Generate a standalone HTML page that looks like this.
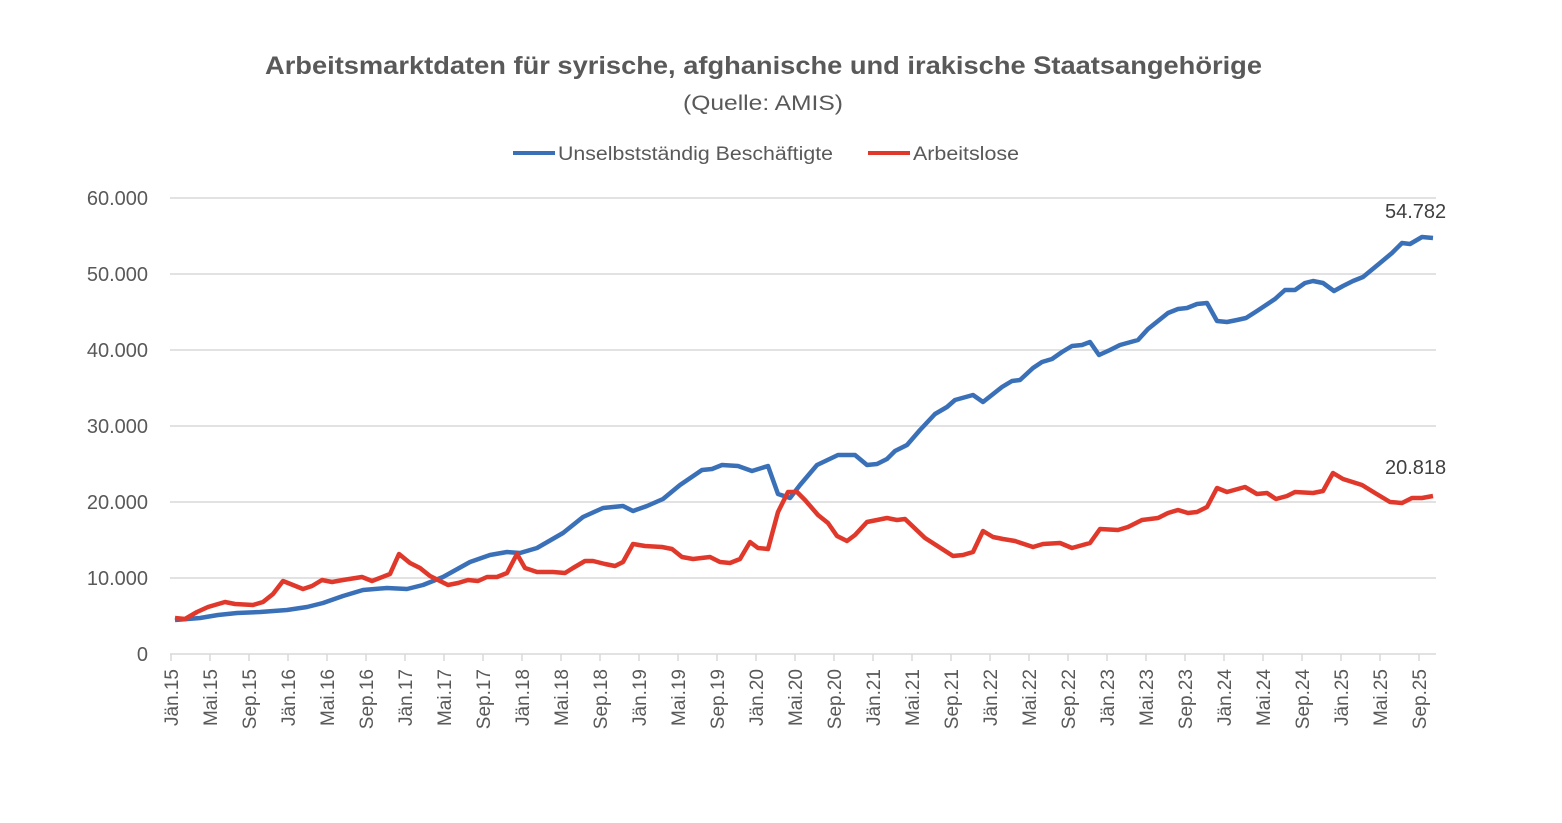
<!DOCTYPE html>
<html><head><meta charset="utf-8"><style>
body{margin:0;background:#fff;}
svg text{font-family:"Liberation Sans",sans-serif;fill:#595959;}
</style></head><body>
<svg width="1562" height="818" viewBox="0 0 1562 818" xmlns="http://www.w3.org/2000/svg">
<text x="265" y="74" font-size="25" font-weight="bold" textLength="997" lengthAdjust="spacingAndGlyphs">Arbeitsmarktdaten für syrische, afghanische und irakische Staatsangehörige</text>
<text x="683" y="110" font-size="21" textLength="160" lengthAdjust="spacingAndGlyphs">(Quelle: AMIS)</text>
<line x1="513" y1="153" x2="555" y2="153" stroke="#3a70b8" stroke-width="4"/>
<text x="558" y="160" font-size="19" textLength="275" lengthAdjust="spacingAndGlyphs">Unselbstständig Beschäftigte</text>
<line x1="868" y1="153" x2="910" y2="153" stroke="#e0392b" stroke-width="4"/>
<text x="913" y="160" font-size="19" textLength="106" lengthAdjust="spacingAndGlyphs">Arbeitslose</text>
<g stroke="#d9d9d9" stroke-width="1.5">
<line x1="170" y1="198" x2="1436" y2="198"/><line x1="170" y1="274" x2="1436" y2="274"/>
<line x1="170" y1="350" x2="1436" y2="350"/><line x1="170" y1="426" x2="1436" y2="426"/>
<line x1="170" y1="502" x2="1436" y2="502"/><line x1="170" y1="578" x2="1436" y2="578"/>
<line x1="170" y1="654" x2="1436" y2="654"/>
</g>
<g font-size="20" text-anchor="end">
<text x="148" y="205">60.000</text><text x="148" y="281">50.000</text><text x="148" y="357">40.000</text>
<text x="148" y="433">30.000</text><text x="148" y="509">20.000</text><text x="148" y="585">10.000</text>
<text x="148" y="661">0</text>
</g>
<g id="ticks" stroke="#d9d9d9" stroke-width="1.5"></g>
<g id="xl" font-size="19"></g>
<polyline fill="none" stroke="#3a70b8" stroke-width="4.5" stroke-linejoin="round" points="175,620 200,618 218,615 237,613 260,612 287,610 307,607 323,603 343,596 363,590 387,588 407,589 423,585 443,577 470,562 490,555 507,552 520,553 537,548 563,533 583,517 603,508 623,506 633,511 647,506 663,499 680,485 702,470 712,469 722,465 738,466 752,471 768,466 778,494 790,498 800,485 817,465 838,455 855,455 867,465 877,464 887,459 895,451 907,445 920,430 935,414 947,407 955,400 973,395 983,402 1002,387 1012,381 1020,380 1033,368 1042,362 1052,359 1062,352 1072,346 1082,345 1090,342 1099,355 1110,350 1120,345 1138,340 1148,329 1168,313 1178,309 1187,308 1197,304 1207,303 1217,321 1227,322 1237,320 1246,318 1257,311 1275,299 1285,290 1295,290 1305,283 1313,281 1323,283 1334,291 1343,286 1353,281 1363,277 1380,263 1392,253 1402,243 1410,244 1422,237 1433,238"/>
<polyline fill="none" stroke="#e0392b" stroke-width="4.5" stroke-linejoin="round" points="175,618 185,619 197,612 208,607 225,602 235,604 253,605 263,602 273,594 283,581 303,589 312,586 322,580 332,582 343,580 362,577 372,581 390,574 399,554 410,563 420,568 430,576 448,585 458,583 468,580 478,581 487,577 497,577 507,573 517,554 525,568 537,572 553,572 565,573 573,568 585,561 593,561 605,564 615,566 623,562 633,544 645,546 662,547 672,549 682,557 693,559 710,557 720,562 730,563 740,559 750,542 758,548 768,549 778,512 788,492 797,492 805,500 818,515 828,523 837,536 847,541 855,535 867,522 887,518 897,520 905,519 925,538 953,556 963,555 973,552 983,531 993,537 1003,539 1015,541 1033,547 1043,544 1060,543 1072,548 1090,543 1100,529 1118,530 1128,527 1142,520 1158,518 1168,513 1178,510 1188,513 1197,512 1207,507 1217,488 1227,492 1245,487 1257,494 1267,493 1276,499 1287,496 1295,492 1313,493 1323,491 1333,473 1343,479 1362,485 1375,493 1390,502 1402,503 1412,498 1422,498 1433,496"/>
<text x="1385" y="218" font-size="20" style="fill:#404040">54.782</text>
<text x="1385" y="474" font-size="20" style="fill:#404040">20.818</text>
</svg>
<script>
var m=["Jän","Mai","Sep"],t=document.getElementById("ticks"),l=document.getElementById("xl"),ns="http://www.w3.org/2000/svg";
for(var k=0;k<33;k++){var x=171+39*k;
var ln=document.createElementNS(ns,"line");ln.setAttribute("x1",x);ln.setAttribute("x2",x);ln.setAttribute("y1",654);ln.setAttribute("y2",661);t.appendChild(ln);
var tx=document.createElementNS(ns,"text");var cx=x+7;tx.setAttribute("x",0);tx.setAttribute("y",0);tx.setAttribute("text-anchor","end");
tx.setAttribute("transform","translate("+cx+",669) rotate(-90)");tx.textContent=m[k%3]+"."+(15+Math.floor(k/3));l.appendChild(tx);}
</script>
</body></html>
